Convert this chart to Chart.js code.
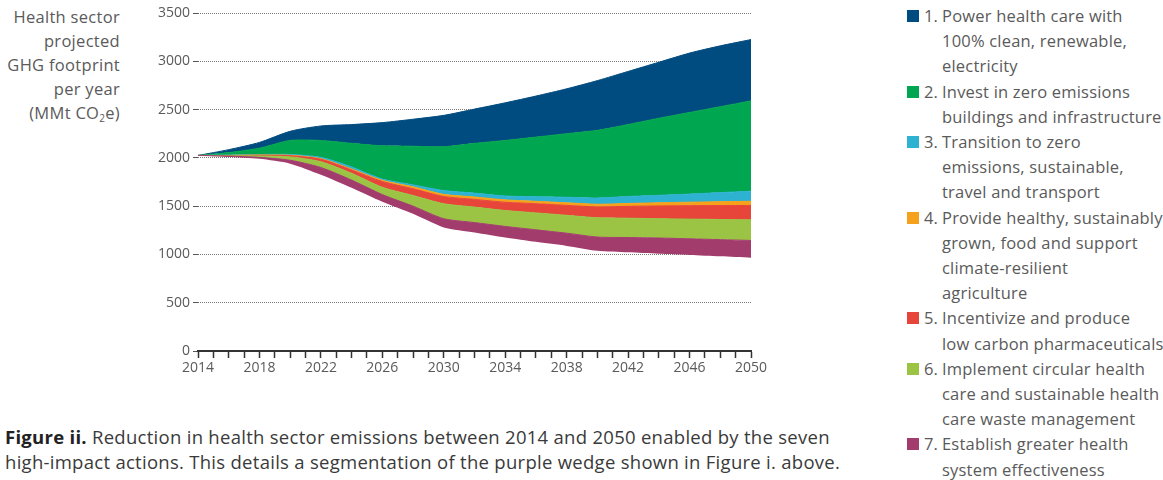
<!DOCTYPE html>
<html>
<head>
<meta charset="utf-8">
<script src="https://cdn.jsdelivr.net/npm/chart.js@4.4.1/dist/chart.umd.min.js"></script>
<style>
  html, body { margin: 0; padding: 0; background: #fff; }
  body { font-family: "Open Sans", "Noto Sans", sans-serif; color: #5a5a5a; }
  #wrap { position: relative; width: 1163px; height: 480px; overflow: hidden; }
  #ytitle { position: absolute; left: 0; top: 5px; width: 120px; text-align: right; font-size: 16.5px; letter-spacing: 0.3px; line-height: 24px; }
  #ytitle sub { font-size: 10px; vertical-align: -3px; line-height: 0; }
  #cv { position: absolute; left: 140px; top: 0; }
  #legend { position: absolute; left: 907px; top: 3px; font-size: 16.5px; letter-spacing: 0.2px; line-height: 25.2px; white-space: nowrap; }
  .item { position: relative; padding-left: 35px; }
  .item .sw { position: absolute; left: 0; top: 7px; width: 12px; height: 12px; }
  .item .num { position: absolute; left: 17px; top: 0; letter-spacing: 0; }
  #caption { position: absolute; left: 5px; top: 424px; font-size: 18.5px; letter-spacing: 0.28px; line-height: 25px; color: #3a3a3a; white-space: nowrap; }
  #caption b { color: #222; }
</style>
</head>
<body>
<div id="wrap">
  <div id="ytitle">Health sector<br>projected<br>GHG footprint<br>per year<br>(MMt CO<sub>2</sub>e)</div>
  <canvas id="cv" width="640" height="381"></canvas>
  <div id="legend"></div>
  <div id="caption"><b>Figure ii.</b> Reduction in health sector emissions between 2014 and 2050 enabled by the seven<br>high-impact actions. This details a segmentation of the purple wedge shown in Figure i. above.</div>
</div>
<script>
// ---- data (MMt CO2e) ----
const years = [2014, 2016, 2018, 2020, 2022, 2024, 2026, 2028, 2030, 2032, 2034, 2036, 2038, 2040, 2042, 2044, 2046, 2048, 2050];

// emissions remaining after all seven actions (bottom of the purple wedge)
const remaining = [2025, 2010, 1990, 1940, 1825, 1690, 1545, 1420, 1280, 1228, 1175, 1130, 1088, 1038, 1022, 1008, 995, 980, 965];
// upper edge of each wedge (cumulative level)
const edge7 = [2025, 2018, 2005, 1975, 1900, 1770, 1620, 1500, 1370, 1330, 1290, 1255, 1220, 1180, 1175, 1170, 1162, 1153, 1145];
const edge6 = [2025, 2022, 2020, 2010, 1960, 1840, 1695, 1610, 1525, 1490, 1455, 1430, 1405, 1380, 1375, 1370, 1366, 1362, 1358];
const edge5 = [2025, 2024, 2026, 2022, 1985, 1875, 1755, 1680, 1600, 1570, 1540, 1525, 1508, 1492, 1498, 1502, 1505, 1506, 1506];
const edge4 = [2025, 2026, 2030, 2027, 1992, 1885, 1768, 1700, 1622, 1595, 1565, 1550, 1535, 1520, 1528, 1535, 1541, 1546, 1550];
const edge3 = [2025, 2030, 2035, 2035, 2005, 1905, 1780, 1720, 1662, 1635, 1605, 1598, 1592, 1585, 1600, 1612, 1625, 1640, 1655];
const edge2 = [2025, 2055, 2100, 2180, 2180, 2150, 2125, 2120, 2115, 2150, 2180, 2215, 2250, 2285, 2345, 2410, 2470, 2530, 2590];
const edge1 = [2025, 2085, 2160, 2275, 2330, 2345, 2365, 2400, 2440, 2505, 2570, 2640, 2715, 2800, 2895, 2990, 3085, 3160, 3225];

const actionLabels = [
  ["1.", ["Power health care with", "100% clean, renewable,", "electricity"]],
  ["2.", ["Invest in zero emissions", "buildings and infrastructure"]],
  ["3.", ["Transition to zero", "emissions, sustainable,", "travel and transport"]],
  ["4.", ["Provide healthy, sustainably", "grown, food and support", "climate-resilient", "agriculture"]],
  ["5.", ["Incentivize and produce", "low carbon pharmaceuticals"]],
  ["6.", ["Implement circular health", "care and sustainable health", "care waste management"]],
  ["7.", ["Establish greater health", "system effectiveness"]]
];
const actionColors = ["#004b7f", "#00a650", "#2db2d2", "#f5a11c", "#e7443a", "#9cc444", "#a23c6d"];

const yTicks = { min: 0, max: 3500, step: 500 };
const xTicks = { min: 2014, max: 2050, labelEvery: 4 };

// ---- build ----
const pts = arr => years.map((y, i) => ({ x: y, y: arr[i] }));
const edges = [edge1, edge2, edge3, edge4, edge5, edge6, edge7]; // action 1..7
const datasets = [{
  label: "remaining", data: pts(remaining), fill: false, borderWidth: 0,
  borderColor: "rgba(0,0,0,0)", pointRadius: 0, tension: 0.25
}];
for (let k = 6; k >= 0; k--) {
  datasets.push({
    label: actionLabels[k][0] + " " + actionLabels[k][1].join(" "),
    data: pts(edges[k]),
    fill: "-1",
    backgroundColor: actionColors[k],
    borderColor: actionColors[k],
    borderWidth: 1,
    pointRadius: 0,
    tension: 0.25
  });
}

const tickFont = { family: "'Open Sans', sans-serif", size: 14 };
new Chart(document.getElementById("cv"), {
  type: "line",
  data: { datasets },
  options: {
    responsive: false,
    animation: false,
    layout: { padding: { top: 13, right: 29, bottom: 0, left: 0 } },
    plugins: { legend: { display: false }, tooltip: { enabled: false } },
    scales: {
      x: {
        type: "linear", min: xTicks.min, max: xTicks.max,
        ticks: {
          stepSize: 1, maxTicksLimit: 60, autoSkip: false, maxRotation: 0, padding: 2,
          color: "#5a5a5a", font: tickFont,
          callback: v => ((v - xTicks.min) % xTicks.labelEvery === 0 ? String(v) : "")
        },
        grid: { drawOnChartArea: false, drawTicks: true, tickLength: 7, tickColor: "#333", tickWidth: 1.5 },
        border: { display: true, color: "#333", width: 2 },
        afterFit: s => { s.height = 30; }
      },
      y: {
        min: yTicks.min, max: yTicks.max,
        ticks: { stepSize: yTicks.step, padding: 3, color: "#5a5a5a", font: tickFont, callback: v => String(v) },
        grid: {
          color: c => (c.tick && c.tick.value === 0 ? "rgba(0,0,0,0)" : "#7a7a7a"),
          lineWidth: 1, tickLength: 5, tickColor: "#555", drawTicks: true
        },
        border: { display: false, dash: [1, 1] },
        afterFit: s => { s.width = 58; }
      }
    }
  }
});

// HTML legend
const leg = document.getElementById("legend");
actionLabels.forEach((lab, i) => {
  const d = document.createElement("div");
  d.className = "item";
  d.innerHTML = '<span class="sw" style="background:' + actionColors[i] + '"></span><span class="num">' +
    lab[0] + '</span>' + lab[1].join("<br>");
  leg.appendChild(d);
});
</script>
</body>
</html>
